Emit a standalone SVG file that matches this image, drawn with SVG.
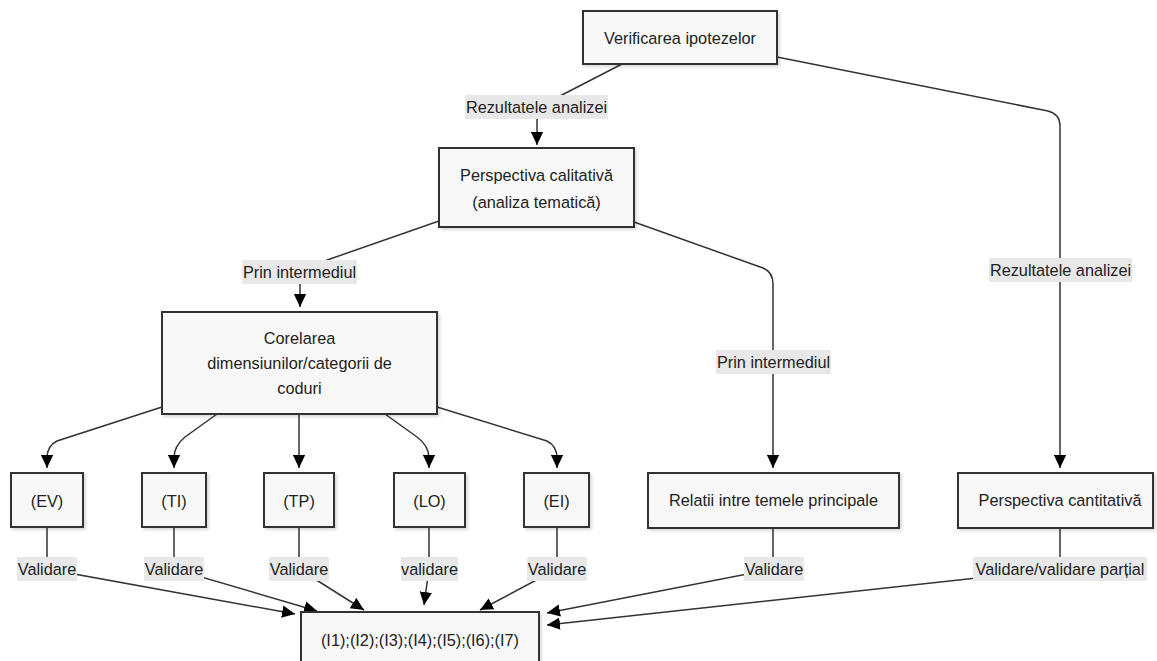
<svg xmlns="http://www.w3.org/2000/svg" width="1157" height="661" viewBox="0 0 1157 661">
<style>
.node rect{fill:#f8f8f8;stroke:#333;stroke-width:2;filter:url(#sh)}
.node text{font-family:"Liberation Sans",Arial,sans-serif;font-size:16.3px;fill:#222;text-anchor:middle}
.edge{fill:none;stroke:#333;stroke-width:1.5}
.arr{marker-end:url(#ah)}
.lbl rect{fill:#e8e8e8}
.lbl text{font-family:"Liberation Sans",Arial,sans-serif;font-size:16.3px;fill:#222;text-anchor:middle}
</style>
<defs>
<marker id="ah" viewBox="0 0 12 12" refX="12" refY="6" markerWidth="13" markerHeight="13" markerUnits="userSpaceOnUse" orient="auto">
<path d="M0,0.3 L12,6 L0,11.7 z" fill="#000"/>
</marker>
<filter id="sh" x="-10%" y="-10%" width="130%" height="140%">
<feDropShadow dx="2" dy="2" stdDeviation="1.5" flood-color="#000" flood-opacity="0.15"/>
</filter>
</defs>
<rect width="1157" height="661" fill="#fff"/>
<g id="connectors">
<path class="edge arr" d="M622,64 L560,96 Q537,108 537,120 L537,145"/>
<path class="edge arr" d="M777,57 L1048,111 Q1060,114 1060,126 L1060,468"/>
<path class="edge arr" d="M439,221 L330,259 Q300,270 300,285 L300,307"/>
<path class="edge arr" d="M634,222 L763,268 Q773,272 773,284 L773,468"/>
<path class="edge arr" d="M162,407 L57,441 Q47,446 47,458 L47,468"/>
<path class="edge arr" d="M217,414 L185,437 Q174,446 174,458 L174,468"/>
<path class="edge arr" d="M299,414 L299,468"/>
<path class="edge arr" d="M385,414 L417,437 Q429,446 429,458 L429,468"/>
<path class="edge arr" d="M437,407 L547,441 Q557,446 557,458 L557,468"/>
<path class="edge arr" d="M47,527 L47,569 L295,614"/>
<path class="edge arr" d="M174,527 L174,569 L317,611"/>
<path class="edge arr" d="M299,527 L299,569 L364,610"/>
<path class="edge arr" d="M429,527 L429,569 L424,605"/>
<path class="edge arr" d="M557,527 L557,569 L480,610"/>
<path class="edge arr" d="M773,528 L773,569 L547,613"/>
<path class="edge arr" d="M1060,528 L1060,569 L547,625"/>
<g class="lbl">
<rect x="465" y="95" width="143" height="24"/><text x="536.5" y="112.5">Rezultatele analizei</text>
<rect x="989" y="258" width="143" height="24"/><text x="1060.5" y="275.5">Rezultatele analizei</text>
<rect x="242" y="260" width="115" height="24"/><text x="299.5" y="277.5">Prin intermediul</text>
<rect x="716" y="350" width="115" height="24"/><text x="773.5" y="367.5">Prin intermediul</text>
<rect x="17" y="557" width="60" height="24"/><text x="47" y="574.5">Validare</text>
<rect x="144" y="557" width="60" height="24"/><text x="174" y="574.5">Validare</text>
<rect x="269" y="557" width="60" height="24"/><text x="299" y="574.5">Validare</text>
<rect x="401" y="557" width="57" height="24"/><text x="429.5" y="574.5">validare</text>
<rect x="527" y="557" width="60" height="24"/><text x="557" y="574.5">Validare</text>
<rect x="744" y="557" width="60" height="24"/><text x="774" y="574.5">Validare</text>
<rect x="973" y="557" width="174" height="24"/><text x="1060" y="574.5">Validare/validare parțial</text>
</g>
</g>
<g id="n-verificarea" class="node"><rect x="583" y="11" width="194" height="53"/><text x="680" y="43.5">Verificarea ipotezelor</text></g>
<g id="n-calitativa" class="node"><rect x="439" y="148" width="195" height="79"/><text x="536.5" y="180.5">Perspectiva calitativă</text><text x="536.5" y="207.5">(analiza tematică)</text></g>
<g id="n-corelarea" class="node"><rect x="162" y="312" width="275" height="102"/><text x="299.5" y="343.5">Corelarea</text><text x="299.5" y="368.5">dimensiunilor/categorii de</text><text x="299.5" y="393.5">coduri</text></g>
<g id="n-ev" class="node"><rect x="11" y="473" width="72" height="54"/><text x="47" y="506.5">(EV)</text></g>
<g id="n-ti" class="node"><rect x="142" y="473" width="64" height="54"/><text x="174" y="506.5">(TI)</text></g>
<g id="n-tp" class="node"><rect x="264" y="473" width="70" height="54"/><text x="299" y="506.5">(TP)</text></g>
<g id="n-lo" class="node"><rect x="394" y="473" width="71" height="54"/><text x="429.5" y="506.5">(LO)</text></g>
<g id="n-ei" class="node"><rect x="524" y="473" width="65" height="54"/><text x="556.5" y="506.5">(EI)</text></g>
<g id="n-relatii" class="node"><rect x="648" y="473" width="251" height="55"/><text x="773.5" y="506">Relatii intre temele principale</text></g>
<g id="n-cantitativa" class="node"><rect x="958" y="473" width="195" height="55"/><text x="1060" y="506">Perspectiva cantitativă</text></g>
<g id="n-final" class="node"><rect x="301" y="612" width="238" height="56"/><text x="420" y="645.5">(I1);(I2);(I3);(I4);(I5);(I6);(I7)</text></g>
</svg>
